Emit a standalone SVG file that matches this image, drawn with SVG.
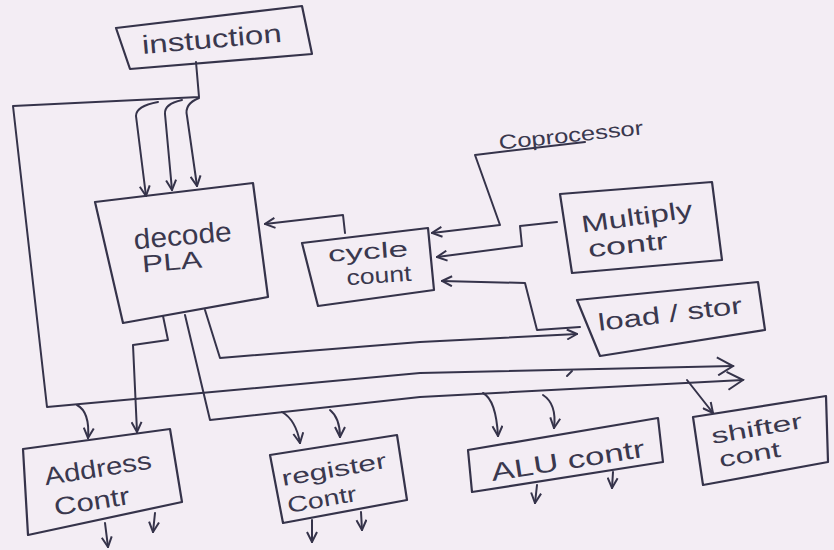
<svg xmlns="http://www.w3.org/2000/svg" width="834" height="550" viewBox="0 0 834 550">
<defs>
<style>
.box{fill:none;stroke:#35334a;stroke-width:2.2;stroke-linejoin:round}
.ln{fill:none;stroke:#35334a;stroke-width:2;stroke-linecap:round;stroke-linejoin:round}
.t{font-family:"Liberation Sans","DejaVu Sans",sans-serif;fill:#3a384e;text-anchor:middle}
</style>
<marker id="ah" viewBox="0 0 12 12" refX="11" refY="6" markerWidth="12" markerHeight="12" markerUnits="userSpaceOnUse" orient="auto">
<path d="M1,1 L11,6 L1,11" fill="none" stroke="#35334a" stroke-width="2"/>
</marker>
<marker id="big" viewBox="0 0 20 20" refX="18" refY="10" markerWidth="20" markerHeight="20" markerUnits="userSpaceOnUse" orient="auto">
<path d="M2,1 L18,10 L3,19" fill="none" stroke="#35334a" stroke-width="2"/>
</marker>
</defs>
<rect width="834" height="550" fill="#f3edf4"/>

<g id="connectors">
<path class="ln" d="M196,62 L199,97 L13,106 L47,407 L420,373 L733,366" marker-end="url(#big)"/>
<path class="ln" d="M158,102 Q136,106 136,116 L146,196" marker-end="url(#ah)"/>
<path class="ln" d="M182,100 Q164,104 165,114 L172,190" marker-end="url(#ah)"/>
<path class="ln" d="M199,98 Q184,104 187,116 L197,186" marker-end="url(#ah)"/>
<path class="ln" d="M345,233 L343,215 L265,224" marker-end="url(#ah)"/>
<path class="ln" d="M585,142 L475,155 L500,225 L432,233" marker-end="url(#ah)"/>
<path class="ln" d="M557,222 L520,226 L522,246 L437,257" marker-end="url(#ah)"/>
<path class="ln" d="M580,327 L537,330 L525,283 L442,281" marker-end="url(#ah)"/>
<path class="ln" d="M205,310 L220,358 L420,342 L577,334" marker-end="url(#ah)"/>
<path class="ln" d="M185,315 L210,420 L420,397 L743,380" marker-end="url(#big)"/>
<path class="ln" d="M163,316 L168,340 L133,345 L137,432" marker-end="url(#ah)"/>
<path class="ln" d="M77,405 Q90,412 88,438" marker-end="url(#ah)"/>
<path class="ln" d="M282,412 Q296,420 300,443" marker-end="url(#ah)"/>
<path class="ln" d="M330,410 Q340,418 340,437" marker-end="url(#ah)"/>
<path class="ln" d="M483,393 Q496,400 498,436" marker-end="url(#ah)"/>
<path class="ln" d="M543,395 Q557,404 554,428" marker-end="url(#ah)"/>
<path class="ln" d="M687,380 L713,413" marker-end="url(#ah)"/>
<path class="ln" d="M105,523 L108,547" marker-end="url(#ah)"/>
<path class="ln" d="M155,513 L153,532" marker-end="url(#ah)"/>
<path class="ln" d="M312,520 L312,542" marker-end="url(#ah)"/>
<path class="ln" d="M361,512 L362,530" marker-end="url(#ah)"/>
<path class="ln" d="M537,485 L535,503" marker-end="url(#ah)"/>
<path class="ln" d="M613,472 L612,488" marker-end="url(#ah)"/>
<path class="ln" d="M567,376 L572,371"/>
</g>

<g id="instruction">
<polygon class="box" points="116,28 302,6 312,54 130,69"/>
<text class="t" x="212" y="48" font-size="26" textLength="140" lengthAdjust="spacingAndGlyphs" transform="rotate(-5 212 42)">instuction</text>
</g>

<g id="decode-pla">
<polygon class="box" points="95,202 253,183 268,297 123,323"/>
<text class="t" x="183" y="245" font-size="28" textLength="98" lengthAdjust="spacingAndGlyphs" transform="rotate(-5 183 240)">decode</text>
<text class="t" x="172" y="270" font-size="24" textLength="60" lengthAdjust="spacingAndGlyphs" transform="rotate(-5 172 262)">PLA</text>
</g>

<g id="cycle-count">
<polygon class="box" points="302,243 428,228 434,290 318,306"/>
<text class="t" x="368" y="259" font-size="22" textLength="80" lengthAdjust="spacingAndGlyphs" transform="rotate(-4 368 252)">cycle</text>
<text class="t" x="379" y="283" font-size="22" textLength="65" lengthAdjust="spacingAndGlyphs" transform="rotate(-4 379 276)">count</text>
</g>

<g id="coprocessor">
<text class="t" x="571" y="142" font-size="20" textLength="145" lengthAdjust="spacingAndGlyphs" transform="rotate(-6 571 136)">Coprocessor</text>
</g>

<g id="multiply-control">
<polygon class="box" points="560,194 712,182 722,260 572,273"/>
<text class="t" x="637" y="225" font-size="24" textLength="112" lengthAdjust="spacingAndGlyphs" transform="rotate(-8 637 218)">Multiply</text>
<text class="t" x="628" y="253" font-size="24" textLength="80" lengthAdjust="spacingAndGlyphs" transform="rotate(-6 628 246)">contr</text>
</g>

<g id="load-store">
<polygon class="box" points="577,300 758,282 765,330 600,356"/>
<text class="t" x="670" y="322" font-size="24" textLength="145" lengthAdjust="spacingAndGlyphs" transform="rotate(-7 670 314)">load / stor</text>
</g>

<g id="address-control">
<polygon class="box" points="23,449 170,429 182,502 28,535"/>
<text class="t" x="98" y="477" font-size="25" textLength="108" lengthAdjust="spacingAndGlyphs" transform="rotate(-9 98 470)">Address</text>
<text class="t" x="92" y="510" font-size="25" textLength="76" lengthAdjust="spacingAndGlyphs" transform="rotate(-9 92 503)">Contr</text>
</g>

<g id="register-control">
<polygon class="box" points="270,455 397,435 407,500 283,523"/>
<text class="t" x="334" y="477" font-size="22" textLength="106" lengthAdjust="spacingAndGlyphs" transform="rotate(-10 334 470)">register</text>
<text class="t" x="322" y="507" font-size="22" textLength="70" lengthAdjust="spacingAndGlyphs" transform="rotate(-10 322 500)">Contr</text>
</g>

<g id="alu-control">
<polygon class="box" points="468,450 658,418 663,462 472,492"/>
<text class="t" x="568" y="469" font-size="25" textLength="155" lengthAdjust="spacingAndGlyphs" transform="rotate(-9 568 462)">ALU contr</text>
</g>

<g id="shifter-control">
<polygon class="box" points="693,417 826,396 828,462 703,485"/>
<text class="t" x="757" y="436" font-size="22" textLength="92" lengthAdjust="spacingAndGlyphs" transform="rotate(-10 757 430)">shifter</text>
<text class="t" x="750" y="462" font-size="22" textLength="62" lengthAdjust="spacingAndGlyphs" transform="rotate(-10 750 456)">cont</text>
</g>
</svg>
